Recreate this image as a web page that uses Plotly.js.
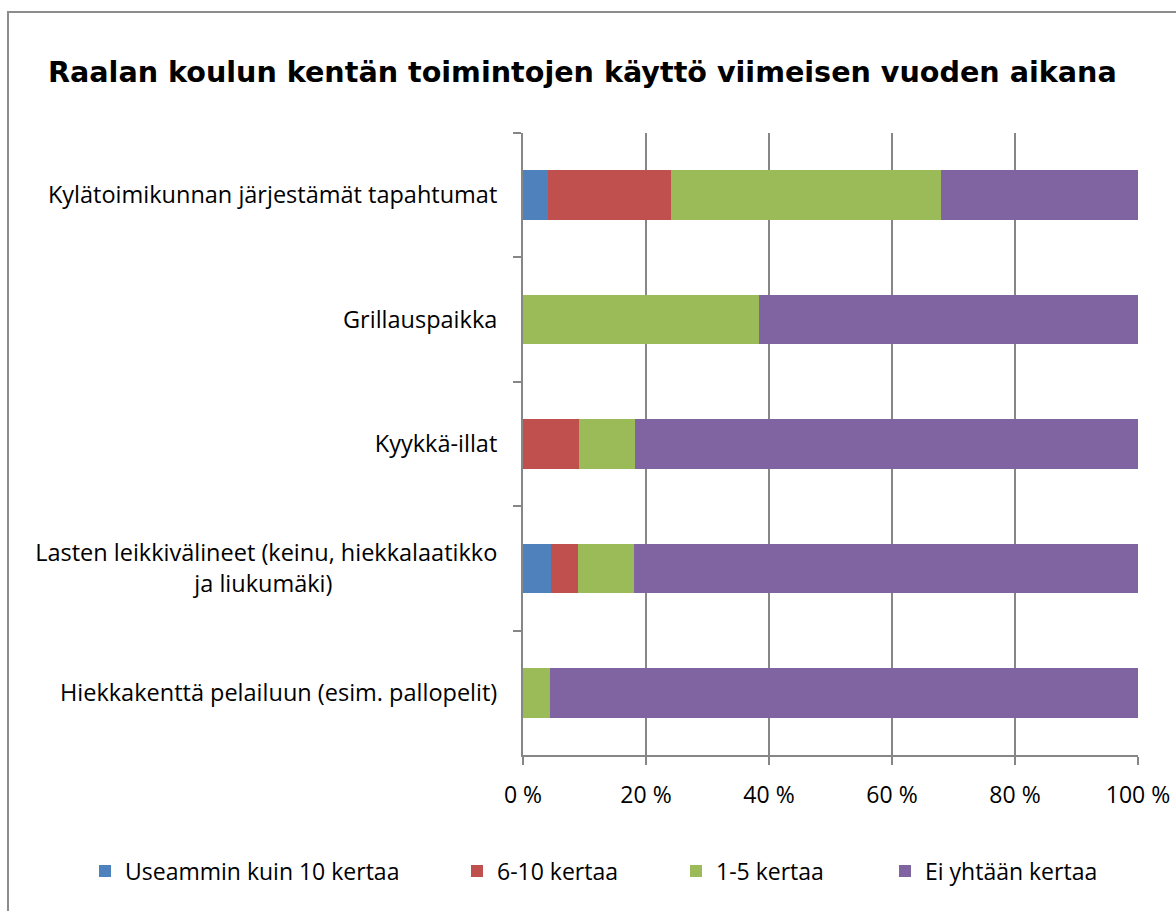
<!DOCTYPE html>
<html>
<head>
<meta charset="utf-8">
<script src="https://cdn.plot.ly/plotly-3.0.1.min.js"></script>
<style>
html,body{margin:0;padding:0;background:#fff;}
#chart{width:1176px;height:911px;}
</style>
</head>
<body>
<div id="chart"></div>
<script>
var NB = '\u00A0';
var pad = NB.repeat(27);
var categories = [
  'Kylätoimikunnan järjestämät tapahtumat',
  'Grillauspaikka',
  'Kyykkä-illat',
  'Lasten leikkivälineet (keinu, hiekkalaatikko<br>ja liukumäki)' + pad,
  'Hiekkakenttä pelailuun (esim. pallopelit)'
];
var seriesNames = ['Useammin kuin 10 kertaa', '6-10 kertaa', '1-5 kertaa', 'Ei yhtään kertaa'];
var useammin = [4, 0, 0, 4.5, 0];
var kertaa6_10 = [20, 0, 9.1, 4.5, 0];
var kertaa1_5 = [44, 38.4, 9.1, 9.1, 4.4];
var eiYhtaan = [32, 61.6, 81.8, 81.9, 95.6];
var xTicks = [0, 20, 40, 60, 80, 100];
var xTickLabels = ['0 %', '20 %', '40 %', '60 %', '80 %', '100 %'];

var colors = ['#4F81BD', '#C0504D', '#9BBB59', '#8064A2'];
var seriesValues = [useammin, kertaa6_10, kertaa1_5, eiYhtaan];
var legendIds = ['legend', 'legend2', 'legend3', 'legend4'];
var legendTextStarts = [122, 494, 713, 922];

var traces = seriesValues.map(function (vals, i) {
  return {
    type: 'bar',
    orientation: 'h',
    name: seriesNames[i],
    legend: legendIds[i],
    x: vals,
    y: categories,
    marker: {color: colors[i], line: {width: 0}},
    hoverinfo: 'x+name'
  };
});

var W = 1176, H = 911, L = 523, R = 38, T = 133, B = 156;
var pw = W - L - R, ph = H - T - B;
function px(x) { return (x - L) / pw; }
function py(y) { return (H - B - y) / ph; }

var FONT = '"Open Sans", Lato, sans-serif';

var layout = {
  width: W, height: H,
  margin: {l: L, r: R, t: T, b: B, pad: 0},
  paper_bgcolor: '#fff',
  plot_bgcolor: '#fff',
  barmode: 'stack',
  bargap: 0.6,
  font: {family: FONT, size: 23, color: '#000'},
  title: {
    text: '<b>Raalan koulun kentän toimintojen käyttö viimeisen vuoden aikana</b>',
    font: {family: '"DejaVu Sans", Verdana, sans-serif', size: 28.6, color: '#000'},
    xref: 'container', yref: 'container',
    x: 48 / W, xanchor: 'left',
    y: 1 - 72 / H, yanchor: 'middle'
  },
  xaxis: {
    range: [0, 100],
    tickmode: 'array',
    tickvals: xTicks,
    ticktext: xTickLabels,
    showgrid: true,
    gridcolor: '#868686',
    gridwidth: 2,
    showline: true,
    linecolor: '#868686',
    linewidth: 2,
    ticks: 'outside',
    ticklen: 8,
    tickwidth: 2,
    tickcolor: '#868686',
    ticklabelstandoff: 10,
    zeroline: false,
    fixedrange: true,
    tickfont: {family: FONT, size: 23}
  },
  yaxis: {
    type: 'category',
    autorange: 'reversed',
    showgrid: false,
    showline: true,
    linecolor: '#868686',
    linewidth: 2,
    ticks: 'outside',
    tickson: 'boundaries',
    ticklen: 8,
    tickwidth: 2,
    tickcolor: '#868686',
    ticklabelstandoff: 19,
    zeroline: false,
    fixedrange: true,
    tickfont: {family: FONT, size: 23.5}
  },
  shapes: [{
    type: 'rect', xref: 'paper', yref: 'paper',
    x0: px(8), x1: px(1185),
    y0: py(920), y1: py(12),
    line: {color: '#8c8c8c', width: 2},
    fillcolor: 'rgba(0,0,0,0)',
    layer: 'below'
  }],
  showlegend: true
};

legendIds.forEach(function (id, i) {
  layout[id] = {
    orientation: 'h',
    x: px(legendTextStarts[i] - 37), xanchor: 'left',
    y: py(871), yanchor: 'middle',
    font: {family: FONT, size: 23, color: '#000'},
    bgcolor: 'rgba(0,0,0,0)'
  };
});

Plotly.newPlot('chart', traces, layout, {displayModeBar: false, staticPlot: true});
</script>
</body>
</html>
